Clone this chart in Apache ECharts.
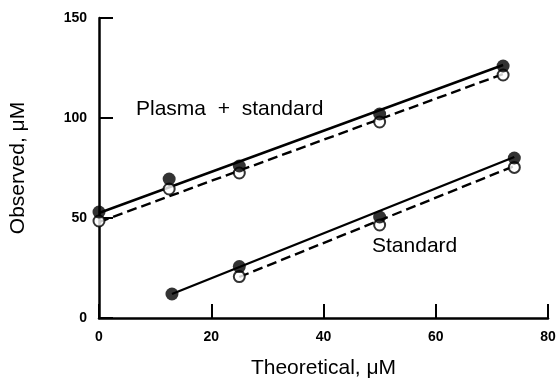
<!DOCTYPE html>
<html><head><meta charset="utf-8">
<script src="https://cdn.jsdelivr.net/npm/echarts@6/dist/echarts.min.js"></script>
<style>html,body{margin:0;padding:0;background:#fff}#c{width:560px;height:384px}</style>
</head><body><div id="c"></div>
<script>
// Plasma + standard
const plasmaX = [0, 12.5, 25, 50, 72];
const plasmaFilled = [53, 69.5, 76, 102, 126];
const plasmaOpen = [48.5, 64.5, 72.5, 98, 121.5];
const plasmaFitX = [0, 72];
const plasmaFilledFit = [52.5, 126.5];
const plasmaOpenFit = [48, 122];
// Standard
const stdFilledX = [13, 25, 50, 74];
const stdFilled = [12, 25.7, 50.5, 80];
const stdOpenX = [25, 50, 74];
const stdOpen = [20.7, 46.5, 75.3];
const stdFilledFitX = [13, 74];
const stdFilledFit = [12, 80.5];
const stdOpenFitX = [25, 74];
const stdOpenFit = [20.5, 76];
// axes
const xTicks = [0, 20, 40, 60, 80];
const yTicks = [0, 50, 100, 150];

const pair = (xs, ys) => xs.map((x, i) => [x, ys[i]]);
const FONT = 'Liberation Sans';

const chart = echarts.init(document.getElementById('c'));
const lineSeries = (xs, ys, dashed) => ({
  type: 'line', data: pair(xs, ys), symbol: 'none', silent: true,
  lineStyle: { color: '#000', width: 2.4, type: dashed ? [10, 5] : 'solid' }, z: 1
});
const dotSeries = (xs, ys, filled) => ({
  type: 'scatter', data: pair(xs, ys), symbol: 'circle', symbolSize: filled ? 13 : 11,
  itemStyle: filled ? { color: '#000' } : { color: '#fff', borderColor: '#000', borderWidth: 2 },
  z: filled ? 4 : 3
});
chart.setOption({
  animation: false,
  backgroundColor: '#fff',
  grid: { left: 98, right: 12, top: 18, bottom: 66 },
  xAxis: {
    type: 'value', min: xTicks[0], max: xTicks[xTicks.length - 1], interval: 20,
    name: 'Theoretical, \u03bcM', nameLocation: 'middle', nameGap: 40,
    nameTextStyle: { fontFamily: FONT, fontSize: 21, color: '#000' },
    axisLine: { lineStyle: { color: '#000', width: 2.5 } },
    axisTick: { inside: true, length: 14, lineStyle: { color: '#000', width: 2 } },
    axisLabel: { fontFamily: FONT, fontSize: 14, fontWeight: 'bold', color: '#000', margin: 12 },
    splitLine: { show: false }
  },
  yAxis: {
    type: 'value', min: yTicks[0], max: yTicks[yTicks.length - 1], interval: 50,
    name: 'Observed, \u03bcM', nameLocation: 'middle', nameGap: 70,
    nameTextStyle: { fontFamily: FONT, fontSize: 21, color: '#000' },
    axisLine: { lineStyle: { color: '#000', width: 2.5 } },
    axisTick: { inside: true, length: 14, lineStyle: { color: '#000', width: 2 } },
    axisLabel: { fontFamily: FONT, fontSize: 14, fontWeight: 'bold', color: '#000', margin: 12 },
    splitLine: { show: false }
  },
  graphic: [
    { type: 'text', left: 136, top: 99, style: { text: 'Plasma  +  standard', font: '21px "Liberation Sans"', fill: '#000' } },
    { type: 'text', left: 372, top: 236, style: { text: 'Standard', font: '21px "Liberation Sans"', fill: '#000' } }
  ],
  series: [
    lineSeries(plasmaFitX, plasmaFilledFit, false),
    lineSeries(plasmaFitX, plasmaOpenFit, true),
    lineSeries(stdFilledFitX, stdFilledFit, false),
    lineSeries(stdOpenFitX, stdOpenFit, true),
    dotSeries(plasmaX, plasmaOpen, false),
    dotSeries(stdOpenX, stdOpen, false),
    dotSeries(plasmaX, plasmaFilled, true),
    dotSeries(stdFilledX, stdFilled, true)
  ]
});
</script></body></html>
